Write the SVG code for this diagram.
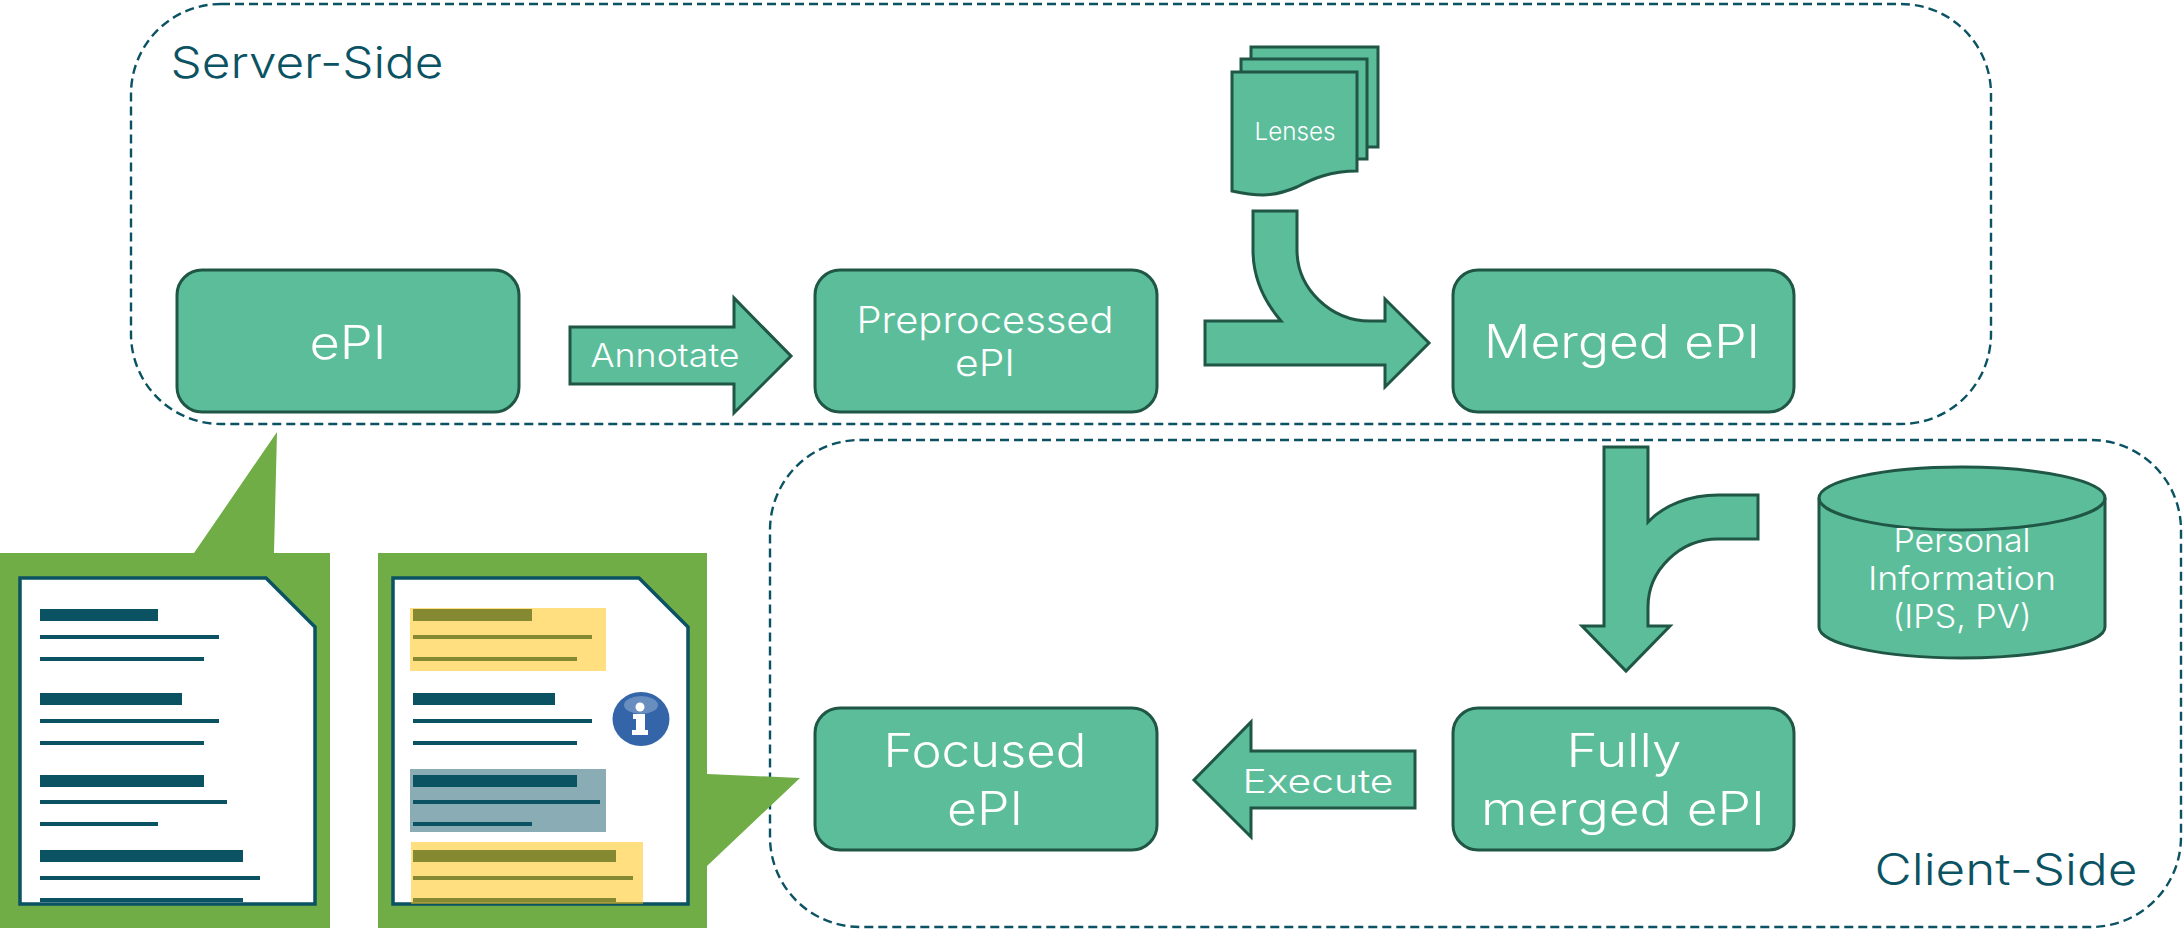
<svg xmlns="http://www.w3.org/2000/svg" width="2183" height="929" viewBox="0 0 2183 929">
<style>
text{font-family:"Inter","Noto Sans","Liberation Sans",sans-serif;font-weight:300;text-anchor:middle;fill:#fff}
.zone{fill:none;stroke:#0b5263;stroke-width:2.4;stroke-dasharray:9 5}
.zl{fill:#0b5263;font-size:44px}
.n{fill:#5cbd9a;stroke:#1f5645;stroke-width:3;stroke-linejoin:miter}
.l{font-size:46px}
.m{font-size:33px}
.panel{fill:#70ad47}
.page{fill:#fff;stroke:#0b5263;stroke-width:3.5}
.b{fill:#0b5263}
.y{fill:#ffc000;opacity:.5}
</style>
<g id="zones">
<rect id="server-side" class="zone" x="131" y="4" width="1860" height="420" rx="90"/>
<rect id="client-side" class="zone" x="770" y="440" width="1411" height="487" rx="90"/>
<text class="zl" x="307" y="78" textLength="273" lengthAdjust="spacingAndGlyphs">Server-Side</text>
<text class="zl" x="2006" y="885" textLength="263" lengthAdjust="spacingAndGlyphs">Client-Side</text>
</g>
<g id="connectors">
<g id="annotate">
<path class="n" d="M570 327H734V298L791 356L734 413V384H570Z"/>
<text class="m" x="665" y="367" textLength="149" lengthAdjust="spacingAndGlyphs">Annotate</text>
</g>
<path id="merge" class="n" d="M1205 321H1281C1263 300 1253 275 1253 250V211H1297V250C1297 289 1331 321 1370 321H1385V299L1429 343L1385 387V365H1205Z"/>
<path id="full-merge" class="n" d="M1604 447H1648V522C1664 505 1690 495 1718 495H1758V539H1718C1680 539 1648 570 1648 607V626H1670L1626 671L1582 626H1604Z"/>
<g id="execute">
<path class="n" d="M1415 751H1251V722L1194 780L1251 837V808H1415Z"/>
<text class="m" x="1318" y="793" textLength="151" lengthAdjust="spacingAndGlyphs">Execute</text>
</g>
</g>
<g id="epi"><rect class="n" x="177" y="270" width="342" height="142" rx="25"/>
<text class="l" x="348" y="359" textLength="77" lengthAdjust="spacingAndGlyphs">ePI</text></g>
<g id="preprocessed-epi"><rect class="n" x="815" y="270" width="342" height="142" rx="25"/>
<text x="985" y="333" font-size="37" textLength="257" lengthAdjust="spacingAndGlyphs">Preprocessed</text>
<text x="985" y="376" font-size="37" textLength="60" lengthAdjust="spacingAndGlyphs">ePI</text></g>
<g id="merged-epi"><rect class="n" x="1453" y="270" width="341" height="142" rx="25"/>
<text class="l" x="1622" y="358" textLength="276" lengthAdjust="spacingAndGlyphs">Merged ePI</text></g>
<g id="focused-epi"><rect class="n" x="815" y="708" width="342" height="142" rx="25"/>
<text class="l" x="985" y="767" textLength="203" lengthAdjust="spacingAndGlyphs">Focused</text>
<text class="l" x="985" y="825" textLength="76" lengthAdjust="spacingAndGlyphs">ePI</text></g>
<g id="fully-merged-epi"><rect class="n" x="1453" y="708" width="341" height="142" rx="25"/>
<text class="l" x="1624" y="767" textLength="115" lengthAdjust="spacingAndGlyphs">Fully</text>
<text class="l" x="1623" y="825" textLength="284" lengthAdjust="spacingAndGlyphs">merged ePI</text></g>
<g id="lenses">
<path class="n" d="M1251 47H1378V147H1251Z"/>
<path class="n" d="M1241 59H1367V159H1241Z"/>
<path class="n" d="M1232 72H1357V171C1330 171 1312 179 1297 187C1285 192 1275 195 1263 195C1251 195 1241 193 1232 191Z"/>
<text x="1295" y="140" font-size="24" textLength="81" lengthAdjust="spacingAndGlyphs">Lenses</text>
</g>
<g id="personal-information">
<path class="n" d="M1819 498C1819 481 1883 467 1962 467S2105 481 2105 498V627C2105 644 2041 658 1962 658S1819 644 1819 627Z"/>
<path class="n" style="fill:none" d="M1819 498C1819 515 1883 530 1962 530S2105 515 2105 498"/>
<text x="1962" y="552" font-size="32" textLength="137" lengthAdjust="spacingAndGlyphs">Personal</text>
<text x="1962" y="590" font-size="32" textLength="188" lengthAdjust="spacingAndGlyphs">Information</text>
<text x="1962" y="628" font-size="32" textLength="139" lengthAdjust="spacingAndGlyphs">(IPS, PV)</text>
</g>
<g id="epi-document">
<path class="panel" d="M0 553H194L277 432L274 553H330V928H0Z"/>
<path class="page" d="M20 578H266L315 627V904H20Z"/>
<path class="b" d="M40 609h118v12H40zM40 635h179v4H40zM40 657h164v4H40zM40 693h142v12H40zM40 719h179v4H40zM40 741h164v4H40zM40 775h164v12H40zM40 800h187v4H40zM40 822h118v4H40zM40 850h203v12H40zM40 876h220v4H40zM40 898h203v4H40z"/>
</g>
<g id="focused-document">
<path class="panel" d="M378 553H707V774L800 778L707 866V928H378Z"/>
<path class="page" d="M393 578H639L688 627V904H393Z"/>
<rect x="410" y="769" width="196" height="63" fill="#0b5263" opacity=".48"/>
<path class="b" d="M413 609h119v12H413zM413 635h179v4H413zM413 657h164v4H413zM413 693h142v12H413zM413 719h179v4H413zM413 741h164v4H413zM413 775h164v12H413zM413 800h187v4H413zM413 822h119v4H413zM413 850h203v12H413zM413 876h220v4H413zM413 898h203v4H413z"/>
<rect class="y" x="410" y="608" width="196" height="63"/>
<rect class="y" x="411" y="842" width="232" height="62"/>
<g id="info-icon">
<ellipse cx="641" cy="719" rx="28.5" ry="27" fill="#3465a8"/>
<ellipse cx="641" cy="705" rx="17" ry="9" fill="#a9bfdc" opacity=".45"/>
<circle cx="640" cy="707" r="4.5" fill="#fff"/>
<path fill="#fff" d="M633 714H645V730H648V735H632V730H636V719H633Z"/>
</g>
</g>
</svg>
